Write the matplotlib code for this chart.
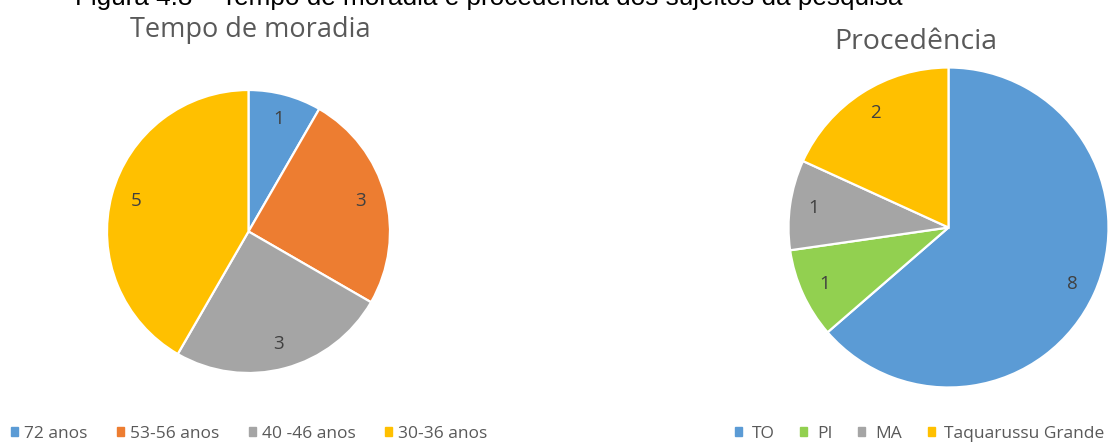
import matplotlib
matplotlib.use("Agg")
import matplotlib.pyplot as plt
from matplotlib.patches import Patch

plt.rcParams['font.family'] = ['Open Sans', 'DejaVu Sans']

# Tempo de moradia
moradia_labels = ["72 anos", "53-56 anos", "40 -46 anos", "30-36 anos"]
moradia_values = [1, 3, 3, 5]
moradia_colors = ["#5B9BD5", "#ED7D31", "#A5A5A5", "#FFC000"]

# Procedência (slice sizes, label text as printed)
proc_labels = ["TO", "PI", "MA", "Taquarussu Grande"]
proc_values = [7, 1, 1, 2]
proc_text = ["8", "1", "1", "2"]
proc_colors = ["#5B9BD5", "#92D050", "#A5A5A5", "#FFC000"]

W, H = 1116, 444
fig = plt.figure(figsize=(W / 100, H / 100), dpi=100)

def px_axes(cx, cy, r):
    return fig.add_axes([(cx - r) / W, (H - cy - r) / H, 2 * r / W, 2 * r / H])

# left pie
ax1 = px_axes(248.5, 231.5, 141.5)
ax1.pie(moradia_values, colors=moradia_colors, startangle=90, counterclock=False,
        labels=[str(v) for v in moradia_values], labeldistance=0.82,
        wedgeprops=dict(edgecolor="white", linewidth=1.6),
        textprops=dict(fontsize=13.5, color="#404040", ha="center", va="center"))
ax1.set_xlim(-1, 1)
ax1.set_ylim(-1, 1)

# right pie
ax2 = px_axes(948.5, 227.5, 160)
ax2.pie(proc_values, colors=proc_colors, startangle=90, counterclock=False,
        labels=proc_text, labeldistance=0.85,
        wedgeprops=dict(edgecolor="white", linewidth=1.6),
        textprops=dict(fontsize=13.5, color="#404040", ha="center", va="center"))
ax2.set_xlim(-1, 1)
ax2.set_ylim(-1, 1)

# titles
fig.text(250 / W, 1 - 37 / H, "Tempo de moradia", ha="center", va="baseline",
         fontsize=19.5, color="#595959")
fig.text(916 / W, 1 - 49 / H, "Procedência", ha="center", va="baseline",
         fontsize=20.5, color="#595959")

# caption at the very top (mostly above the visible area in the reference)
fig.text(75 / W, 1 - 5 / H, "Figura 4.8 – Tempo de moradia e procedência dos sujeitos da pesquisa",
         ha="left", va="baseline", fontsize=18.8, color="black",
         family=["Liberation Sans", "DejaVu Sans"])

# legends
h1 = [Patch(color=c) for c in moradia_colors]
fig.legend(h1, moradia_labels, loc="center left", bbox_to_anchor=(11 / W, 1 - 434 / H),
           ncol=4, frameon=False, fontsize=12.5, labelcolor="#595959",
           handlelength=0.4, handleheight=0.4, handletextpad=0.35,
           columnspacing=1.7, borderaxespad=0, borderpad=0)

h2 = [Patch(color=c) for c in proc_colors]
fig.legend(h2, proc_labels, loc="center left", bbox_to_anchor=(735 / W, 1 - 434 / H),
           ncol=4, frameon=False, fontsize=12.5, labelcolor="#595959",
           handlelength=0.4, handleheight=0.4, handletextpad=0.55,
           columnspacing=1.5, borderaxespad=0, borderpad=0)

fig.savefig("out.png", dpi=100)
